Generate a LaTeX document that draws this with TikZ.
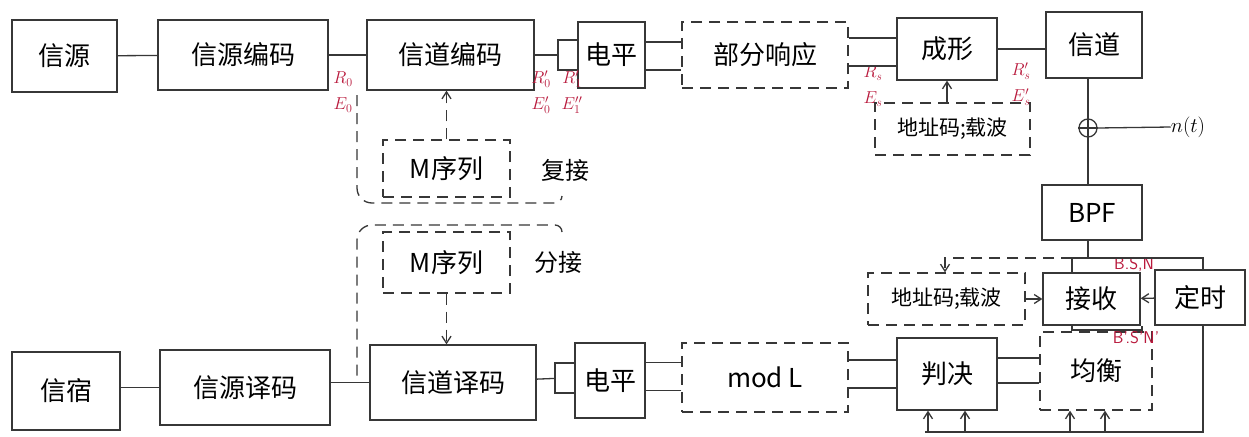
\documentclass[tikz,border=0pt]{standalone}
\usepackage{fontspec}
\newfontfamily\cjk{Noto Sans CJK SC}
\usetikzlibrary{arrows.meta}
\definecolor{linec}{RGB}{55,55,55}
\definecolor{redc}{RGB}{185,25,60}
\tikzset{
  box/.style={draw=linec, line width=1.3pt, inner sep=0pt, font=\cjk\fontsize{26}{28}\selectfont},
  dbox/.style={box, dash pattern=on 11pt off 7pt},
  wire/.style={draw=linec, line width=1.3pt},
  dwire/.style={wire, dash pattern=on 11pt off 7pt},
  arr/.style={-{Straight Barb[length=7pt,width=9pt]}},
  lbl/.style={text=redc, font=\fontsize{18}{20}\selectfont, align=center, inner sep=0pt},
  txt/.style={inner sep=0pt, font=\cjk\fontsize{24}{26}\selectfont}
}
\begin{document}
\begin{tikzpicture}[x=1pt,y=-1pt]
\useasboundingbox[fill=white] (0,0) rectangle (1249,436);
% top row
\node[box, minimum width=105, minimum height=72] (src) at (64.5,56) {信源};
\node[box, minimum width=170, minimum height=70] (senc) at (243,55) {信源编码};
\node[box, minimum width=167, minimum height=70] (cenc) at (450.5,55) {信道编码};
\node[box, minimum width=20, minimum height=30] (sr1) at (568,55) {};
\node[box, minimum width=67, minimum height=66] (lvl1) at (611.5,55) {电平};
\node[dbox, minimum width=166, minimum height=66] (pr) at (765,55) {部分响应};
\node[box, minimum width=100, minimum height=62] (shp) at (947,49) {成形};
\node[box, minimum width=96, minimum height=66] (ch) at (1094,45) {信道};
\node[dbox, minimum width=155, minimum height=52, font=\cjk\fontsize{21}{23}\selectfont] (addr1) at (952.5,129) {地址码;载波};
\node[draw=linec, line width=1.3pt, circle, minimum size=18pt, inner sep=0pt] (sum) at (1088,128) {};
\node[txt, font=\fontsize{22}{24}\selectfont] (nt) at (1188,127) {$n(t)$};
% right column
\node[box, minimum width=100, minimum height=55] (bpf) at (1092,212.5) {BPF};
\node[box, minimum width=97, minimum height=52] (rx) at (1091.5,299) {接收};
\node[box, minimum width=90, minimum height=55] (tim) at (1200,297.5) {定时};
\node[dbox, minimum width=157, minimum height=52, font=\cjk\fontsize{21}{23}\selectfont] (addr2) at (946.5,299) {地址码;载波};
\node[dbox, minimum width=112, minimum height=78] (eq) at (1096,371) {均衡};
% bottom row
\node[box, minimum width=100, minimum height=72] (dec) at (947,374) {判决};
\node[dbox, minimum width=166, minimum height=69] (modl) at (765,377.5) {mod L};
\node[box, minimum width=70, minimum height=75] (lvl2) at (610,380.5) {电平};
\node[box, minimum width=20, minimum height=30] (sr2) at (565,378) {};
\node[box, minimum width=166, minimum height=75] (cdec) at (453,382.5) {信道译码};
\node[box, minimum width=170, minimum height=75] (sdec) at (245,387.5) {信源译码};
\node[box, minimum width=108, minimum height=78] (sink) at (66,391) {信宿};
% M sequences
\node[dbox, minimum width=127, minimum height=57] (m1) at (446.5,168.5) {M序列};
\node[dbox, minimum width=127, minimum height=61] (m2) at (446.5,262.5) {M序列};
\node[txt] (mux) at (565,170) {复接};
\node[txt] (dmux) at (558,262) {分接};
% red labels
\node[lbl] (l0) at (343,92) {$R_0$\\[6pt]$E_0$};
\node[lbl] (l1) at (541,92) {$R_0'$\\[6pt]$E_0'$};
\node[lbl] (l2) at (572,92) {$R_1'$\\[6pt]$E_1''$};
\node[lbl] (l3) at (873,86) {$R_s$\\[6pt]$E_s$};
\node[lbl] (l4) at (1021,84) {$R_s'$\\[6pt]$E_s'$};
\node[lbl, font=\sffamily\fontsize{17}{19}\selectfont] (l5) at (1134,265) {B.S,N};
\node[lbl, font=\sffamily\fontsize{17}{19}\selectfont] (l6) at (1136,338) {B'.S'N'};
% top connectors
\draw[wire] (src) -- (senc);
\draw[wire] (senc) -- (cenc);
\draw[wire] (cenc) -- (sr1);
\draw[wire] ([yshift=13pt]lvl1.east) -- ([yshift=13pt]lvl1.east -| pr.west);
\draw[wire] ([yshift=-15pt]lvl1.east) -- ([yshift=-15pt]lvl1.east -| pr.west);
\draw[wire] ([yshift=11pt]shp.west -| pr.east) -- ([yshift=11pt]shp.west);
\draw[wire] ([yshift=-17pt]shp.west -| pr.east) -- ([yshift=-17pt]shp.west);
\draw[wire] (shp) -- (shp -| ch.west);
\draw[wire, arr] (addr1.north -| shp) -- (shp.south);
\draw[wire] (ch.south -| sum) -- (sum.north);
\draw[wire] (sum.west) -- (sum.east);
\draw[wire] (sum.north) -- (sum.south);
\draw[wire] (sum.east) -- (nt.west);
\draw[wire] (sum.south) -- (sum |- bpf.north);
% receiver split
\coordinate (sp) at (1088,258);
\coordinate (spl) at (1072,258);
\coordinate (spr) at (1203,258);
\draw[wire] (bpf.south -| sp) -- (sp);
\draw[wire] (spl |- rx.north) -- (spl) -- (spr) -- (spr |- tim.north);
\coordinate (ad) at (945,258);
\draw[dwire, arr] (spl) -- (ad) -- (ad |- addr2.north);
\draw[wire, arr] (addr2) -- (rx);
\draw[wire, arr] (tim) -- (rx);
\coordinate (bl) at (1072,330);
\coordinate (br) at (1142,330);
\draw[wire] (bl |- rx.south) -- (bl) -- (br) -- (br |- rx.south);
% bottom connectors
\draw[wire] ([yshift=13pt]eq.west) -- ([yshift=13pt]eq.west -| dec.east);
\draw[wire] ([yshift=-12pt]eq.west) -- ([yshift=-12pt]eq.west -| dec.east);
\draw[wire] ([yshift=14pt]dec.west) -- ([yshift=14pt]dec.west -| modl.east);
\draw[wire] ([yshift=-14pt]dec.west) -- ([yshift=-14pt]dec.west -| modl.east);
\draw[wire] ([yshift=15pt]modl.west) -- ([yshift=15pt]modl.west -| lvl2.east);
\draw[wire] ([yshift=-13pt]modl.west) -- ([yshift=-13pt]modl.west -| lvl2.east);
\draw[wire] (sr2) -- (cdec);
\draw[wire] (cdec) -- (cdec -| sdec.east);
\draw[wire] (sdec) -- (sdec -| sink.east);
% feedback bus
\coordinate (fr) at (1203,432);
\coordinate (fl) at (925,432);
\draw[wire] (tim.south -| fr) -- (fr) -- (fl);
\coordinate (f1) at (928,432);
\coordinate (f2) at (965,432);
\coordinate (f3) at (1070,432);
\coordinate (f4) at (1105,432);
\draw[wire, arr] (f1) -- (f1 |- dec.south);
\draw[wire, arr] (f2) -- (f2 |- dec.south);
\draw[wire, arr] (f3) -- (f3 |- eq.south);
\draw[wire, arr] (f4) -- (f4 |- eq.south);
% M sequence links and containers
\draw[dwire, arr] (m1.north) -- (m1.north |- cenc.south);
\draw[dwire, arr] (m2.south) -- (m2.south |- cdec.north);
\coordinate (c1a) at (357,95);
\coordinate (c1b) at (562,196);
\draw[dwire] (c1a) -- (357,188) to[out=-90,in=180] (372,203) -- (555,203) to[out=0,in=-90] (c1b);
\coordinate (c2a) at (562,232);
\coordinate (c2b) at (357,378);
\draw[dwire] (c2a) to[out=90,in=0] (555,225) -- (372,225) to[out=180,in=90] (357,240) -- (c2b);
\end{tikzpicture}
\end{document}
